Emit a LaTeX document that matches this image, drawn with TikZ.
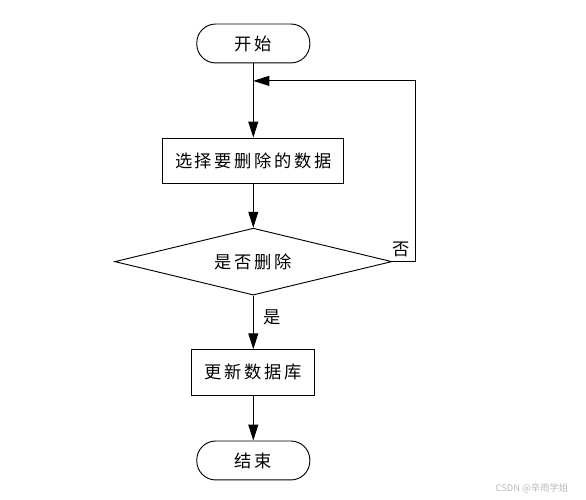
\documentclass[tikz,border=0pt]{standalone}
\usepackage{fontspec}
\usepackage{tikz}
\usetikzlibrary{positioning}
\usetikzlibrary{shapes.geometric}
\usetikzlibrary{arrows.meta}
\usepackage{xcolor}
\newfontfamily\cjkfont[LetterSpace=15]{Noto Sans CJK SC}
\newfontfamily\markfont{Noto Sans CJK SC}

\begin{document}
\begin{tikzpicture}[
    terminal/.style={rectangle, draw, rounded corners=0.5cm, minimum width=2.99cm, minimum height=1.03cm},
    block/.style={rectangle, draw, minimum height=1.2cm},
    decision/.style={diamond, draw, aspect=4, inner sep=0pt, minimum width=7.33cm, minimum height=1.77cm},
    every node/.style={font=\cjkfont\fontsize{13}{15}\selectfont},
    line width=0.7pt,
    >={Triangle[length=12pt,width=7.5pt]}
]
    \useasboundingbox (0,0) rectangle (15.5,-13.2);

    % Start
    \node[terminal] (start) at (6.7,-1.15) {开始};

    % Select the data
    \node[block, minimum width=4.79cm] (select) at (6.7,-4.25) {选择要删除的数据};
    \draw[->] (start) -- (select);

    % Delete or not
    \node[decision] (d1) at (6.7,-6.92) {是否删除};
    \draw[->] (select) -- (d1);

    % No - back to the top
    \coordinate (back) at (6.7,-2.14);
    \coordinate (corner) at (10.98,-2.14);
    \draw[->] (d1.east) -| node[pos=0.2, above] {否} (corner) -- (back);

    % Yes - update
    \node[block, minimum width=3.25cm] (update) at (6.7,-9.85) {更新数据库};
    \draw[->] (d1) -- node[pos=0.4, right=4pt] {是} (update);

    % End
    \node[terminal] (stop) at (6.7,-12.18) {结束};
    \draw[->] (update) -- (stop);

    % Watermark
    \node[font=\markfont\fontsize{7}{8}\selectfont, text=gray!55] (mark) at (14.07,-12.91) {CSDN @辛雨学姐};
\end{tikzpicture}
\end{document}
